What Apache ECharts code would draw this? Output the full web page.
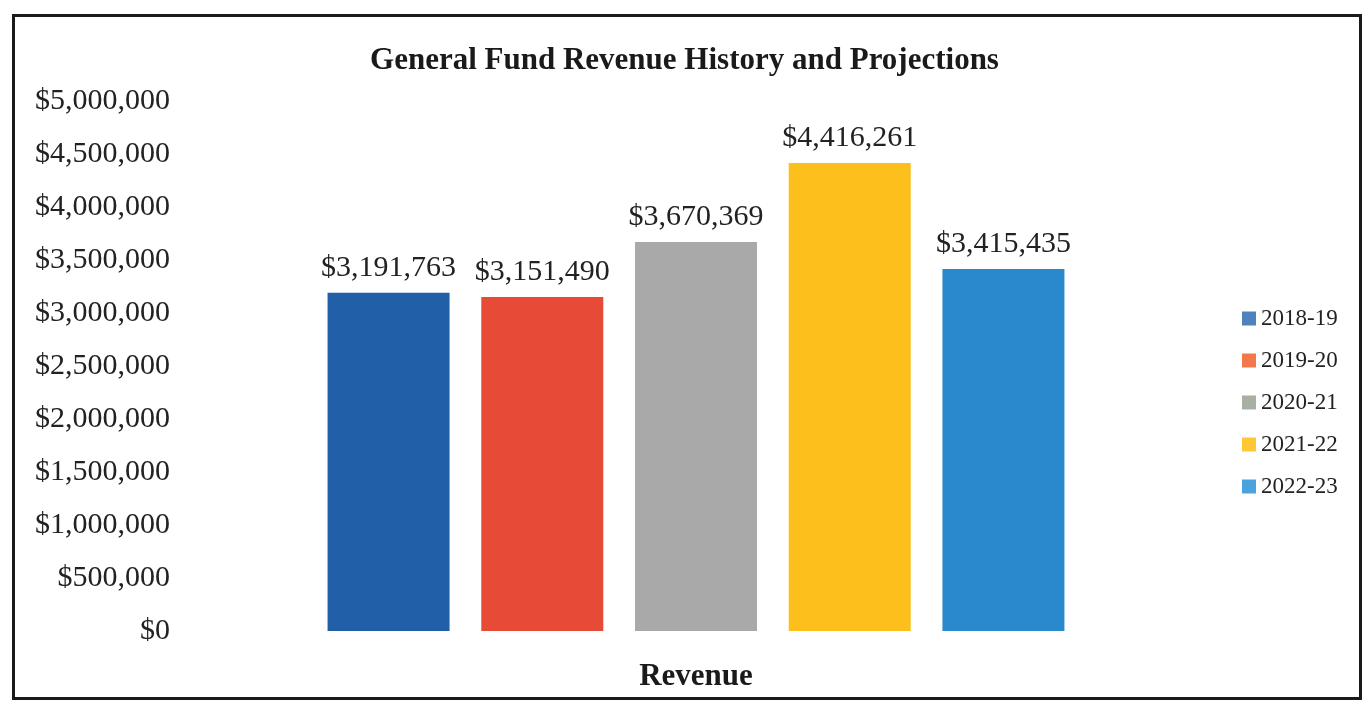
<!DOCTYPE html>
<html>
<head>
<meta charset="utf-8">
<script src="https://cdn.jsdelivr.net/npm/echarts@6/dist/echarts.min.js"></script>
<style>
  html, body { margin: 0; padding: 0; background: #fff; }
  #frame {
    position: absolute; left: 12px; top: 14px;
    width: 1344px; height: 680px;
    border: 3px solid #1a1a1a;
  }
  #chart { position: absolute; left: 0; top: 0; width: 1369px; height: 711px; }
</style>
</head>
<body>
<div id="frame"></div>
<div id="chart"></div>
<script>
// chart data
const categories = ['Revenue'];
const years = ['2018-19', '2019-20', '2020-21', '2021-22', '2022-23'];
const revenue = [3191763, 3151490, 3670369, 4416261, 3415435];
const barColors = ['#2160a8', '#e84a38', '#a9a9a9', '#fdbf1c', '#2a88cc'];
const legendColors = ['#4f81bd', '#f2784b', '#a8b0a4', '#ffc733', '#4aa3dc'];

const serif = '"Liberation Serif", "DejaVu Serif", serif';
const money = (v) => '$' + v.toLocaleString('en-US');

const myChart = echarts.init(document.getElementById('chart'));

myChart.setOption({
  animation: false,
  title: {
    text: 'General Fund Revenue History and Projections',
    left: 'center',
    top: 40,
    textStyle: { fontFamily: serif, fontSize: 31, fontWeight: 'bold', color: '#1a1a1a' },
  },
  legend: {
    orient: 'vertical',
    left: 1237,
    top: 302,
    itemWidth: 14,
    itemHeight: 14,
    itemGap: 19,
    textStyle: { fontFamily: serif, fontSize: 23, color: '#222' },
    data: years.map((y, i) => ({ name: y, icon: 'rect', itemStyle: { color: legendColors[i] } })),
  },
  grid: { left: 178, right: 155, top: 101, bottom: 80 },
  xAxis: {
    type: 'category',
    data: categories,
    axisLine: { show: false },
    axisTick: { show: false },
    axisLabel: {
      margin: 30,
      fontFamily: serif, fontSize: 31, fontWeight: 'bold', color: '#1a1a1a',
    },
  },
  yAxis: {
    type: 'value',
    min: 0,
    max: 5000000,
    interval: 500000,
    axisLine: { show: false },
    axisTick: { show: false },
    splitLine: { show: false },
    axisLabel: {
      margin: 8,
      formatter: money,
      fontFamily: serif, fontSize: 30, color: '#222',
    },
  },
  series: years.map((y, i) => ({
    name: y,
    type: 'bar',
    barWidth: 122,
    barGap: '26%',
    itemStyle: { color: barColors[i] },
    label: {
      show: true,
      position: 'top',
      distance: 10,
      formatter: (p) => money(p.value),
      fontFamily: serif, fontSize: 30, color: '#222',
    },
    data: [revenue[i]],
  })),
});
</script>
</body>
</html>
